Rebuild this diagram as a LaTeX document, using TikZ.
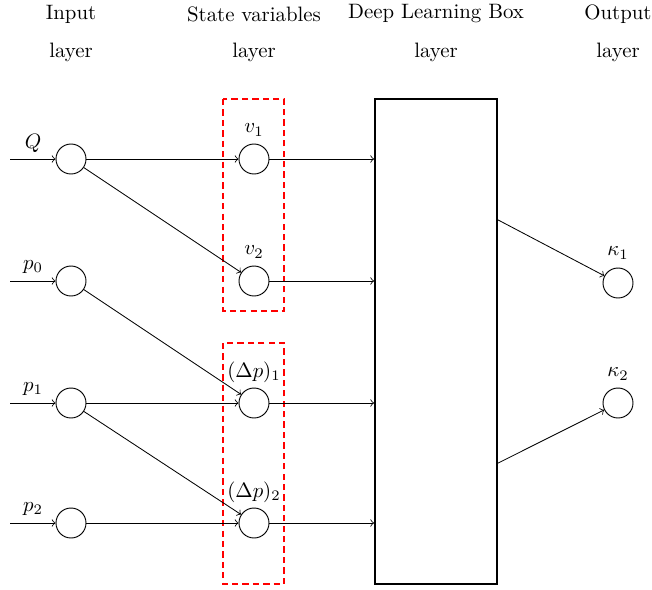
\documentclass[tikz,border=0pt]{standalone}
\usetikzlibrary{arrows,calc}
\begin{document}
\begin{tikzpicture}[x=0.48pt,y=-0.48pt,
  neuron/.style={circle,draw,line width=0.45pt,minimum size=14.4pt,inner sep=0pt},
  conn/.style={->,line width=0.4pt},
  hdr/.style={inner sep=0pt,anchor=center},
  lbl/.style={inner sep=0pt,anchor=center},
  redbox/.style={draw=red,line width=0.9pt,dash pattern=on 3pt off 2pt},
  dlbox/.style={draw,line width=0.8pt}]
\useasboundingbox (0,0) rectangle (652,590);

% headers
\node[hdr] (h1a) at (71,14) {Input};
\node[hdr] (h1b) at (71,52) {layer};
\node[hdr] (h2a) at (254,14) {State variables};
\node[hdr] (h2b) at (254,52) {layer};
\node[hdr] (h3a) at (436,14) {Deep Learning Box};
\node[hdr] (h3b) at (436,52) {layer};
\node[hdr] (h4a) at (618,14) {Output};
\node[hdr] (h4b) at (618,52) {layer};

% dashed groups of state variables
\draw[redbox] (223,99) rectangle (284,311);
\draw[redbox] (223,343) rectangle (284,584);

% deep learning box
\node[dlbox,minimum width=58.6pt,minimum height=232.8pt,inner sep=0pt] (box) at (436,341.5) {};

% input neurons
\node[neuron] (i1) at (71,159) {};
\node[neuron] (i2) at (71,281) {};
\node[neuron] (i3) at (71,403) {};
\node[neuron] (i4) at (71,523) {};

% incoming arrows
\coordinate (s1) at (10,159);
\coordinate (s2) at (10,281);
\coordinate (s3) at (10,403);
\coordinate (s4) at (10,523);
\draw[conn] (s1) -- (i1);
\draw[conn] (s2) -- (i2);
\draw[conn] (s3) -- (i3);
\draw[conn] (s4) -- (i4);
\node[lbl] (lq) at (33,143) {$Q$};
\node[lbl] (lp0) at (33,267) {$p_0$};
\node[lbl] (lp1) at (33,389) {$p_1$};
\node[lbl] (lp2) at (33,509) {$p_2$};

% state neurons
\node[neuron] (s1n) at (254,159) {};
\node[neuron] (s2n) at (254,281) {};
\node[neuron] (s3n) at (254,403) {};
\node[neuron] (s4n) at (254,523) {};
\node[lbl] (lv1) at (254,130) {$v_1$};
\node[lbl] (lv2) at (254,252) {$v_2$};
\node[lbl] (ld1) at (254,372) {$(\Delta p)_1$};
\node[lbl] (ld2) at (254,492) {$(\Delta p)_2$};

% output neurons
\node[neuron] (o1) at (618,283) {};
\node[neuron] (o2) at (618,403) {};
\node[lbl] (lk1) at (618,253) {$\kappa_1$};
\node[lbl] (lk2) at (618,374) {$\kappa_2$};

% input -> state
\draw[conn] (i1) -- (s1n);
\draw[conn] (i1) -- (s2n);
\draw[conn] (i2) -- (s3n);
\draw[conn] (i3) -- (s3n);
\draw[conn] (i3) -- (s4n);
\draw[conn] (i4) -- (s4n);

% state -> box
\draw[conn] (s1n) -- (s1n -| box.west);
\draw[conn] (s2n) -- (s2n -| box.west);
\draw[conn] (s3n) -- (s3n -| box.west);
\draw[conn] (s4n) -- (s4n -| box.west);

% box -> output
\draw[conn] ($(box.north east)!0.25!(box.south east)$) -- (o1);
\draw[conn] ($(box.north east)!0.75!(box.south east)$) -- (o2);
\end{tikzpicture}
\end{document}
